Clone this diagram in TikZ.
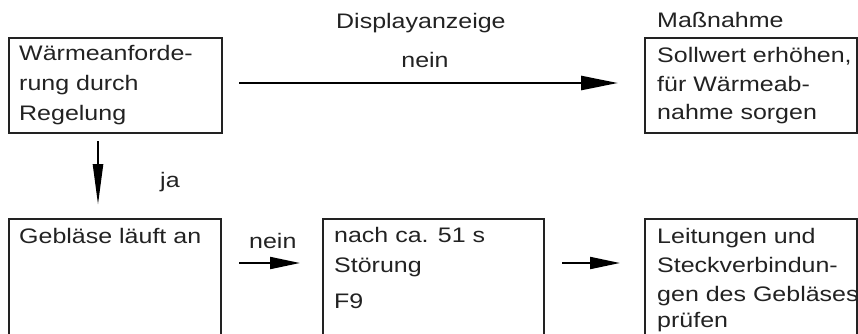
\documentclass[tikz,border=0pt]{standalone}
\usepackage{fontspec}
\setmainfont{Liberation Sans}[FakeStretch=1.19]
\usetikzlibrary{arrows.meta}
\definecolor{ink}{HTML}{222222}
\begin{document}
\begin{tikzpicture}[x=1pt,y=-1pt,
  box/.style={draw=ink,line width=1.8pt,anchor=north west,inner sep=0,outer sep=0},
  txt/.style={anchor=base west,inner sep=0,text=ink,font=\fontsize{21}{21}\selectfont},
  bigarr/.style={draw=black,line width=2.5pt,-{Triangle[length=37pt,width=14pt]}},
  downarr/.style={draw=black,line width=2.5pt,-{Triangle[length=41pt,width=10pt]}},
  smallarr/.style={draw=black,line width=2pt,-{Triangle[length=30pt,width=12pt]}}]
\useasboundingbox (0,0) rectangle (858,333);
\clip (0,0) rectangle (858,333);
% boxes
\node[box,minimum width=213pt,minimum height=95pt] (a) at (9,38) {};
\node[box,minimum width=212pt,minimum height=95pt] (b) at (645,38) {};
\node[box,minimum width=212pt,minimum height=145pt] (c) at (9,219) {};
\node[box,minimum width=221pt,minimum height=145pt] (d) at (323,219) {};
\node[box,minimum width=212pt,minimum height=145pt] (e) at (645,219) {};
% headers
\node[txt] (h1) at (336,28) {Displayanzeige};
\node[txt] (h2) at (657,27) {Maßnahme};
% box texts
\node[txt] (a1) at (19,60) {Wärmeanforde-};
\node[txt] (a2) at (19,90) {rung durch};
\node[txt] (a3) at (19,120) {Regelung};
\node[txt] (b1) at (657,62) {Sollwert erhöhen,};
\node[txt] (b2) at (657,91) {für Wärmeab-};
\node[txt] (b3) at (657,119) {nahme sorgen};
\node[txt] (c1) at (19,243) {Gebläse läuft an};
\node[txt] (d1) at (334,242) {nach ca. 51 s};
\node[txt] (d2) at (334,272) {Störung};
\node[txt] (d3) at (334,308) {F9};
\node[txt] (e1) at (657,243) {Leitungen und};
\node[txt] (e2) at (657,272) {Steckverbindun-};
\node[txt] (e3) at (657,301) {gen des Gebläses};
\node[txt] (e4) at (657,327) {prüfen};
% labels
\node[txt,anchor=base] (l1) at (425,67) {nein};
\node[txt] (l2) at (160,187) {ja};
\node[txt] (l3) at (249,248) {nein};
% connectors
\draw[bigarr,shorten <=17pt,shorten >=27pt] ([yshift=2.5pt]a.east) -- ([yshift=2.5pt]b.west);
\draw[downarr,shorten <=8pt,shorten >=14pt] ([xshift=-17.5pt]a.south) -- ([xshift=-17.5pt]a.south |- c.north);
\draw[smallarr,shorten <=18pt,shorten >=23pt] ([yshift=-44pt]c.north east) -- ([yshift=-44pt]d.north west);
\draw[smallarr,shorten <=18pt,shorten >=25pt] ([yshift=-44pt]d.north east) -- ([yshift=-44pt]e.north west);
\end{tikzpicture}
\end{document}
